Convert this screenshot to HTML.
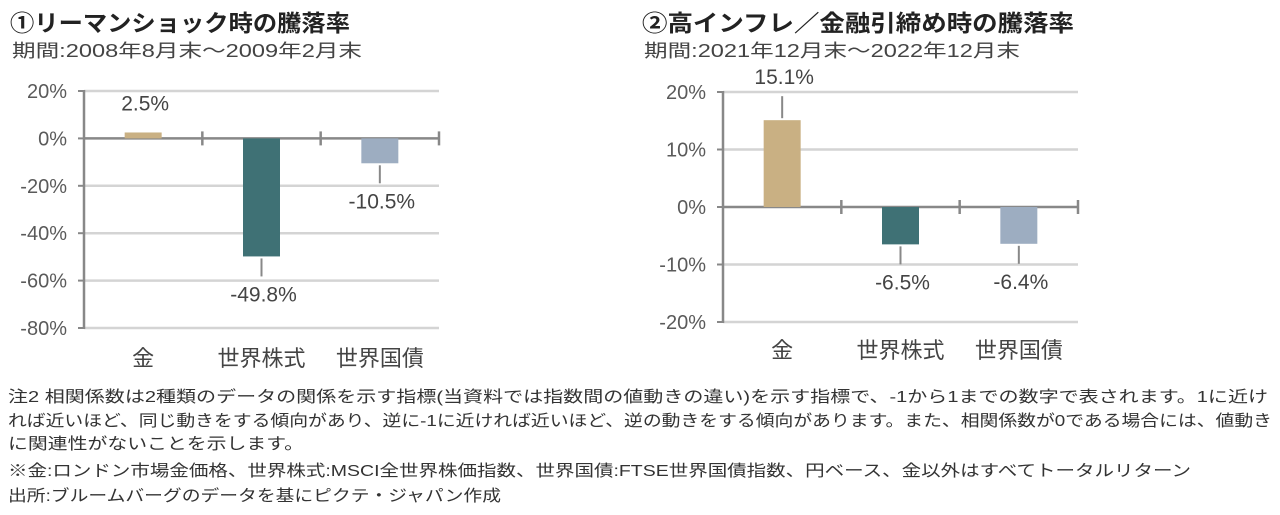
<!DOCTYPE html>
<html><head><meta charset="utf-8"><style>
html,body{margin:0;padding:0;background:#fff;}
svg{display:block;font-family:"Liberation Sans","Noto Sans CJK JP",sans-serif;}
</style></head><body>
<svg width="1280" height="515" viewBox="0 0 1280 515">
<g id="c1"></g>
<g id="c2"></g>
<g fill="#333" font-size="16">
<text x="8" y="402" textLength="1260" lengthAdjust="spacingAndGlyphs">注2 相関係数は2種類のデータの関係を示す指標(当資料では指数間の値動きの違い)を示す指標で、-1から1までの数字で表されます。1に近け</text>
<text x="8" y="426" textLength="1264" lengthAdjust="spacingAndGlyphs">れば近いほど、同じ動きをする傾向があり、逆に-1に近ければ近いほど、逆の動きをする傾向があります。また、相関係数が0である場合には、値動き</text>
<text x="8" y="449" textLength="296" lengthAdjust="spacingAndGlyphs">に関連性がないことを示します。</text>
<text x="8" y="476" textLength="1183" lengthAdjust="spacingAndGlyphs">※金:ロンドン市場金価格、世界株式:MSCI全世界株価指数、世界国債:FTSE世界国債指数、円ベース、金以外はすべてトータルリターン</text>
<text x="8" y="501" textLength="493" lengthAdjust="spacingAndGlyphs">出所:ブルームバーグのデータを基にピクテ・ジャパン作成</text>
</g>
</svg>
<script>
const categories = ["金","世界株式","世界国債"];
const values1 = [2.5, -49.8, -10.5];
const labels1 = ["2.5%","-49.8%","-10.5%"];
const ticks1 = [20,0,-20,-40,-60,-80];
const values2 = [15.1, -6.5, -6.4];
const labels2 = ["15.1%","-6.5%","-6.4%"];
const ticks2 = [20,10,0,-10,-20];
const colors = ["#c9b083","#3f7175","#9dadc1"];
const NS = "http://www.w3.org/2000/svg";
function mk(p, tag, at, txt){const e=document.createElementNS(NS,tag);for(const k in at)e.setAttribute(k,at[k]);if(txt!==undefined)e.textContent=txt;p.appendChild(e);return e;}
function draw(g, cfg){
  const {x0,x1,yTop,yBot,vMax,vMin,ticks,values,labels,title,sub,titleW,subW,tx,catY,leader} = cfg;
  const y = v => yTop + (vMax - v) / (vMax - vMin) * (yBot - yTop);
  const cw = (x1 - x0) / categories.length;
  const cx = i => x0 + cw * (i + 0.5);
  let t = mk(g,"text",{x:tx,y:31,"font-size":23,"font-weight":"bold",fill:"#222",textLength:titleW,lengthAdjust:"spacingAndGlyphs"},title);
  
  
  t = mk(g,"text",{x:tx+2,y:57,"font-size":18,fill:"#444",textLength:subW,lengthAdjust:"spacingAndGlyphs"},sub);
  
  
  ticks.forEach(v=>{
    const l = mk(g,"line",{x1:x0,x2:x1,y1:y(v),y2:y(v),stroke:v===0?"#888":"#d4d4d4","stroke-width":2.5});
    
    
    mk(g,"line",{x1:x0-6,x2:x0,y1:y(v),y2:y(v),stroke:"#888","stroke-width":2});
    const tl = mk(g,"text",{x:x0-17,y:y(v)+7,"font-size":20,fill:"#5a5a5a","text-anchor":"end"},v+"%");
    
    
  });
  const ax = mk(g,"line",{x1:x0,x2:x0,y1:yTop-1,y2:yBot+1,stroke:"#888","stroke-width":2.5});
  
  
  for(let i=1;i<=categories.length;i++){
    mk(g,"line",{x1:x0+cw*i,x2:x0+cw*i,y1:y(0)-7,y2:y(0)+7,stroke:"#888","stroke-width":2.5});
  }
  values.forEach((v,i)=>{
    const bw=37, top=Math.min(y(v),y(0)), h=Math.abs(y(v)-y(0));
    const b = mk(g,"rect",{x:cx(i)-bw/2,y:top,width:bw,height:h,fill:colors[i]});
    
    
    let ly;
    if(v>=0){
      if(leader[i]){mk(g,"line",{x1:cx(i),x2:cx(i),y1:y(v)-2,y2:y(v)-24,stroke:"#888","stroke-width":2});ly=y(v)-36;}
      else ly=y(v)-22;
    } else {
      mk(g,"line",{x1:cx(i),x2:cx(i),y1:y(v)+2,y2:y(v)+20,stroke:"#888","stroke-width":2});
      ly=y(v)+45;
    }
    const vl = mk(g,"text",{x:cx(i)+2,y:ly,"font-size":21,fill:"#444","text-anchor":"middle"},labels[i]);
    
    
    const cl = mk(g,"text",{x:cx(i),y:catY,"font-size":22,fill:"#444","text-anchor":"middle"},categories[i]);
    
    
  });
}
draw(document.getElementById("c1"),{x0:84,x1:439,yTop:91,yBot:328,vMax:20,vMin:-80,ticks:ticks1,values:values1,labels:labels1,
 title:"①リーマンショック時の騰落率",sub:"期間:2008年8月末～2009年2月末",titleW:340,subW:350,tx:10,catY:366,leader:[false,true,true]});
draw(document.getElementById("c2"),{x0:723,x1:1078,yTop:92,yBot:322,vMax:20,vMin:-20,ticks:ticks2,values:values2,labels:labels2,
 title:"②高インフレ／金融引締め時の騰落率",sub:"期間:2021年12月末～2022年12月末",titleW:432,subW:376,tx:642,catY:358,leader:[true,true,true]});
</script>
</body></html>
